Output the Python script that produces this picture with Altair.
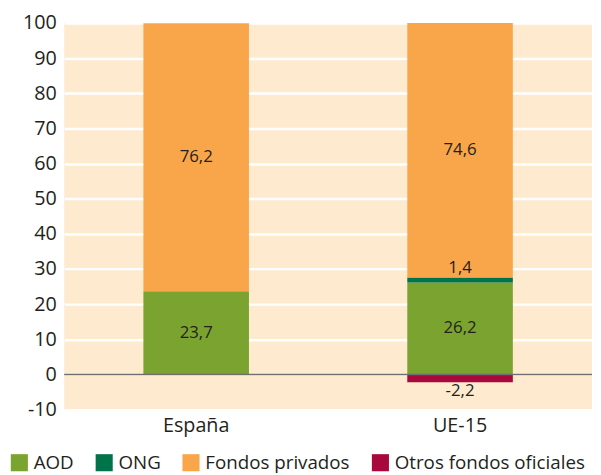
import altair as alt
import pandas as pd

regions = ["España", "España", "UE-15", "UE-15", "UE-15", "UE-15"]
series = ["AOD", "Fondos privados", "AOD", "ONG", "Fondos privados", "Otros fondos oficiales"]
values = [23.7, 76.2, 26.2, 1.4, 74.6, -2.2]
labels = ["23,7", "76,2", "26,2", "1,4", "74,6", "-2,2"]
orders = [1, 3, 1, 2, 3, 4]

legend_names = ["AOD", "ONG", "Fondos privados", "Otros fondos oficiales"]
legend_colors = ["#7ba32f", "#00734a", "#f9a64b", "#a8083b"]
y_ticks = [-10, 0, 10, 20, 30, 40, 50, 60, 70, 80, 90, 100]

FONT = "Open Sans"
TXT = "#231f20"

df = pd.DataFrame({"region": regions, "serie": series, "valor": values,
                   "etiqueta": labels, "orden": orders})

base = alt.Chart(df)

x_axis = alt.Axis(labelAngle=0, labelFontSize=20, labelColor=TXT,
                  labelFont=FONT, ticks=False, domain=False, labelPadding=6,
                  title=None)
x_scale = alt.Scale(paddingInner=0.6, paddingOuter=0.3)
y_axis = alt.Axis(values=y_ticks, labelFontSize=20, labelColor=TXT,
                  labelFont=FONT, ticks=False, domain=False,
                  labelPadding=8, gridColor="white", gridWidth=2.5,
                  gridOpacity=1, labelOverlap=False, labelSeparation=0,
                  labelFlush=False, title=None,
                  labelExpr="'' + datum.value")
y_scale = alt.Scale(domain=[-10, 100], nice=False)

def X():
    return alt.X("region:N", sort=["España", "UE-15"], title=None,
                 scale=x_scale, axis=x_axis)

def Y(field, **kw):
    return alt.Y(field, title=None, scale=y_scale, axis=y_axis, **kw)

bars = base.mark_bar(clip=True).encode(
    x=X(),
    y=Y("valor:Q", stack="zero"),
    color=alt.Color("serie:N", title=None,
                    scale=alt.Scale(domain=legend_names, range=legend_colors),
                    legend=alt.Legend(orient="none", legendX=-55, legendY=436,
                                      direction="horizontal", columns=4,
                                      symbolType="square", symbolSize=300,
                                      symbolStrokeWidth=0, symbolOpacity=1,
                                      labelFontSize=19, labelFont=FONT,
                                      labelColor=TXT, labelOffset=5,
                                      columnPadding=21, padding=0,
                                      labelLimit=400)),
    order=alt.Order("orden:Q"),
)

stacked = base.transform_stack(
    stack="valor", groupby=["region"], sort=[alt.SortField("orden")],
    as_=["v0", "v1"], offset="zero"
).transform_calculate(
    lo="min(datum.v0, datum.v1)",
    hi="min(max(datum.v0, datum.v1), 100)",
).transform_calculate(
    mid="(datum.lo + datum.hi) / 2"
)

txt_kw = dict(fontSize=17, font=FONT, color=TXT)

mid_text = stacked.transform_filter(
    "datum.serie == 'AOD' || datum.serie == 'Fondos privados'"
).mark_text(baseline="middle", **txt_kw).encode(
    x=X(), y=Y("mid:Q"), text="etiqueta:N")

top_text = stacked.transform_filter("datum.serie == 'ONG'").mark_text(
    baseline="bottom", dy=-1, **txt_kw).encode(
    x=X(), y=Y("hi:Q"), text="etiqueta:N")

bot_text = stacked.transform_filter("datum.serie == 'Otros fondos oficiales'").mark_text(
    baseline="top", dy=1, **txt_kw).encode(
    x=X(), y=Y("lo:Q"), text="etiqueta:N")

zero = alt.Chart(pd.DataFrame({"z": [0]})).mark_rule(color="#6e6e6e", strokeWidth=1.5).encode(
    y=Y("z:Q"))

chart = alt.layer(bars, zero, mid_text, top_text, bot_text).properties(
    width=535, height=392,
    padding={"left": 57, "top": 12, "right": 1, "bottom": 62},
    autosize=alt.AutoSizeParams(type="none"),
).configure_view(fill="#fdeacf", stroke=None).configure_axisY(labelOverlap=False)

chart.save("out.html", embed_options={"renderer": "svg", "actions": False})
